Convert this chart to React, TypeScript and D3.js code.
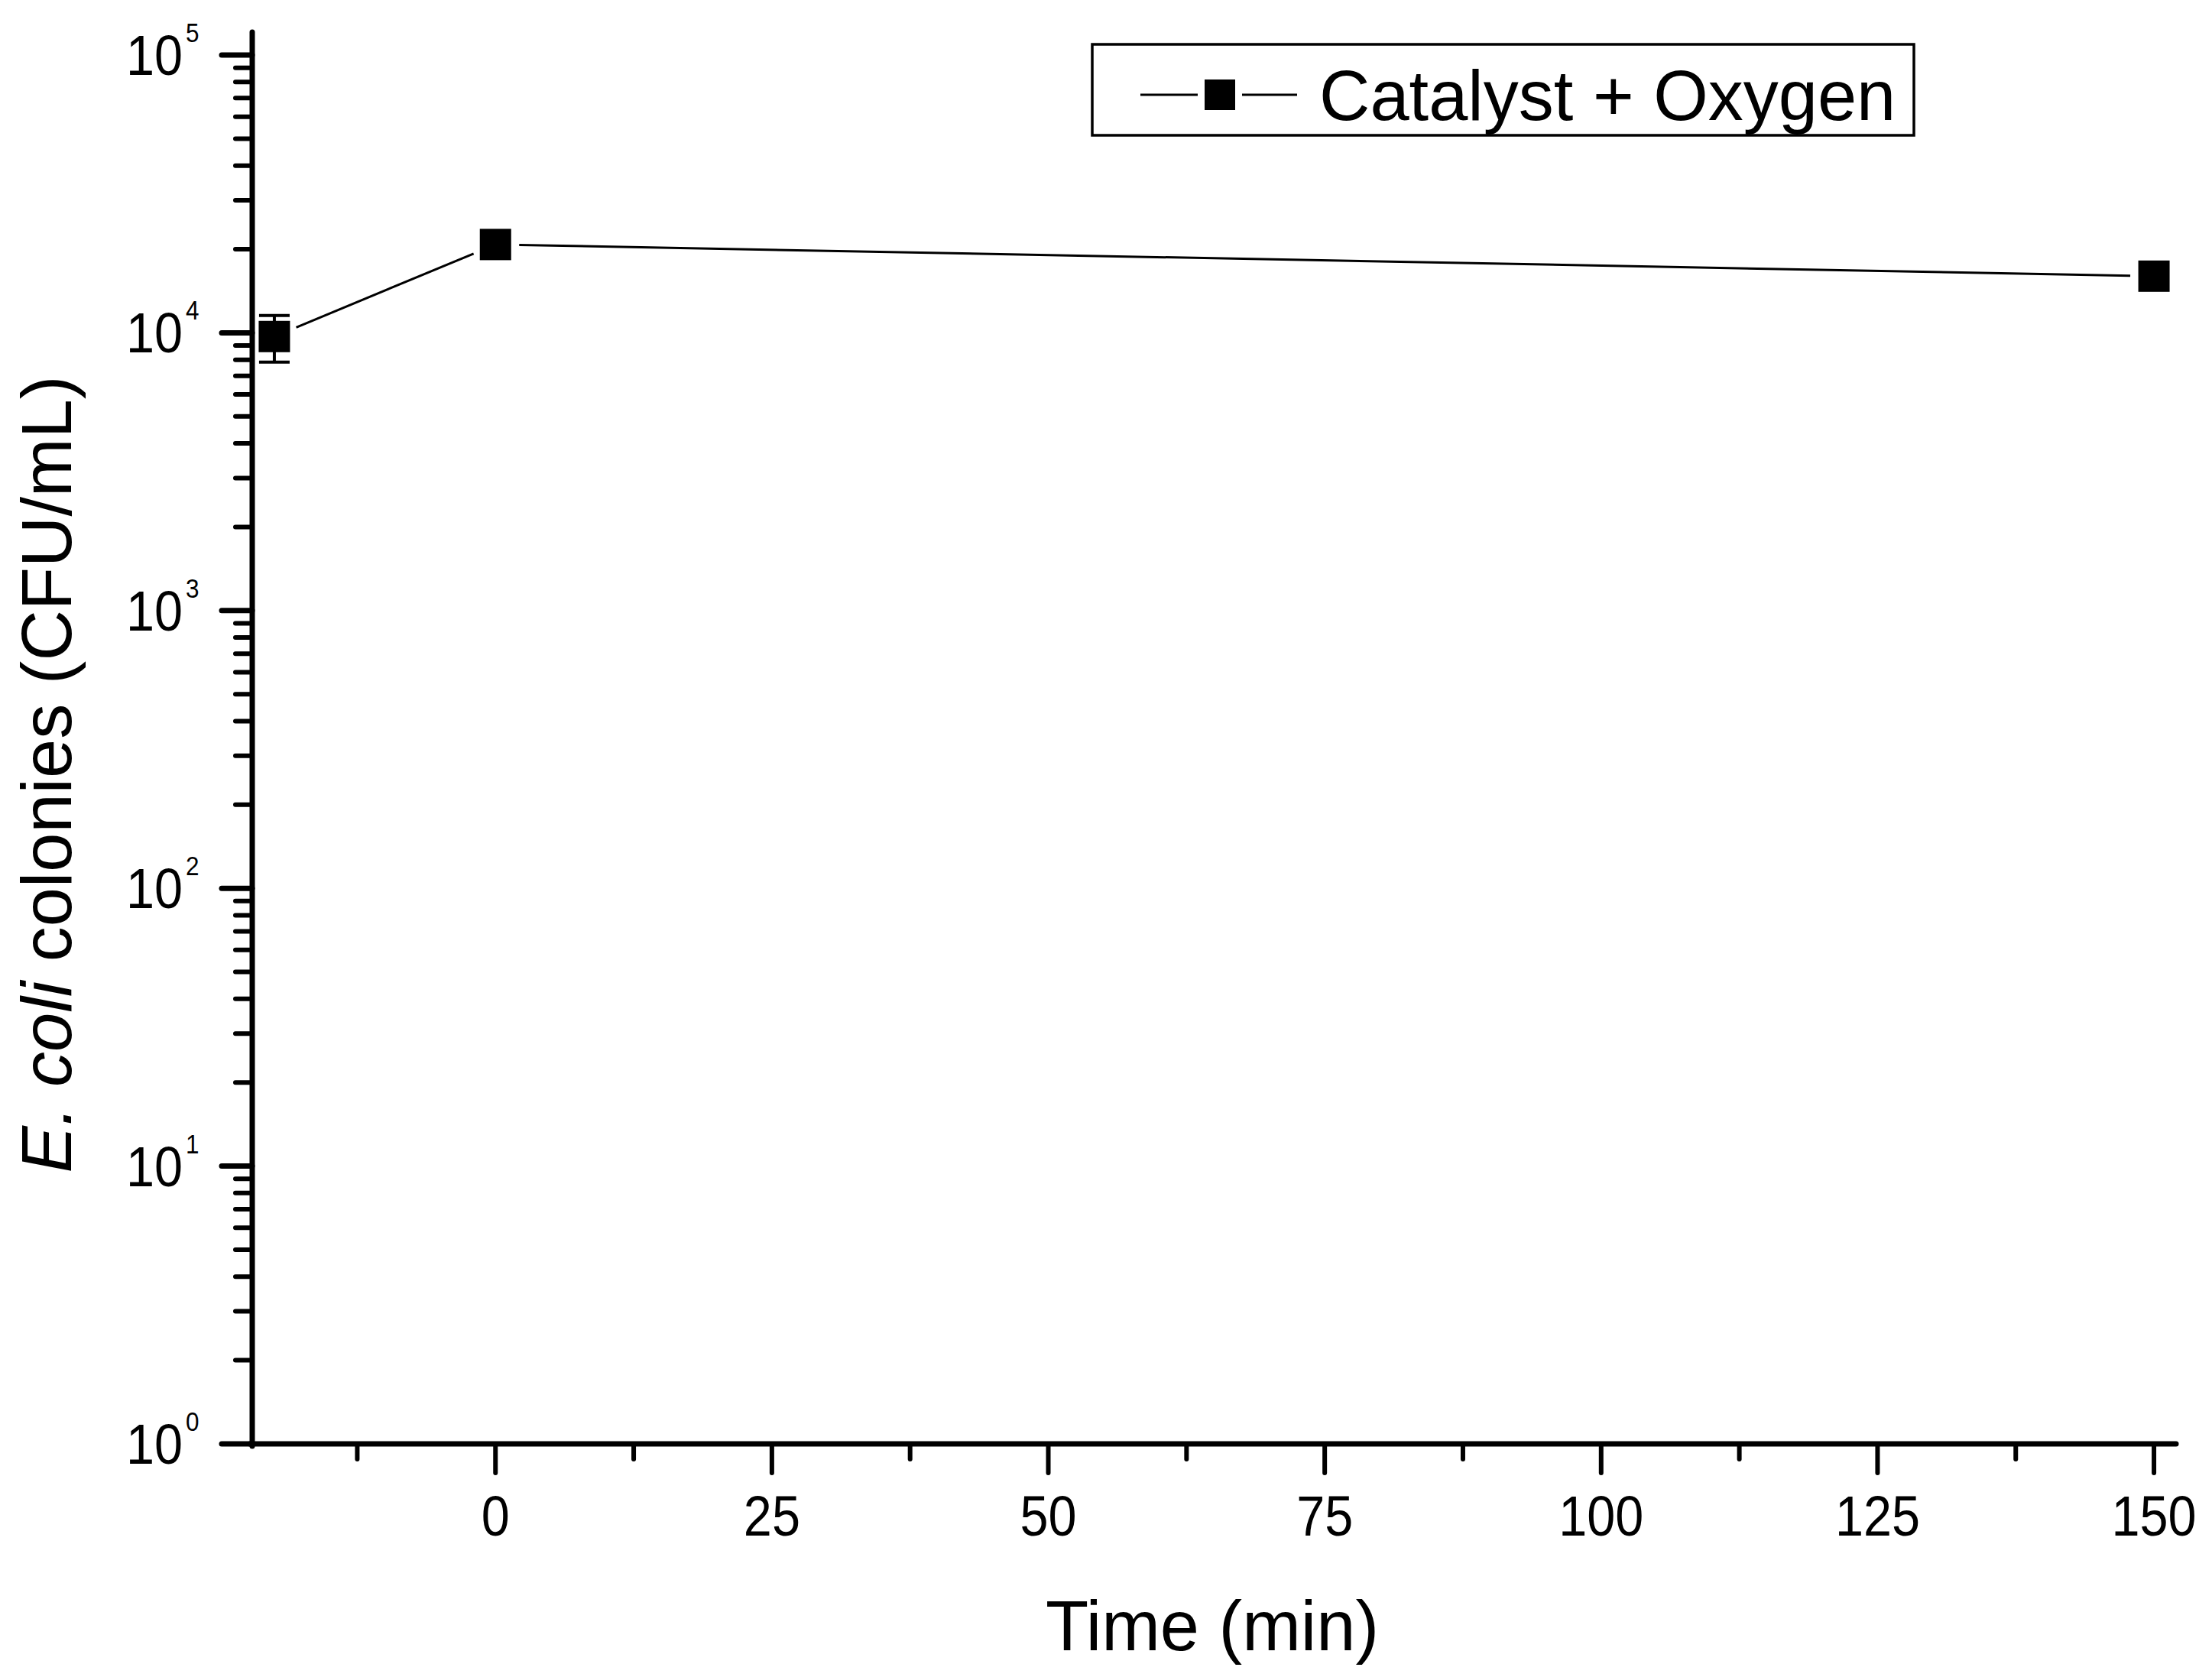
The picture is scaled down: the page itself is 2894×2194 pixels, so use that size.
import * as d3 from "d3";

// data
const times = [-20, 0, 150]; // min
const cfu = [9700, 20800, 16000]; // CFU/mL
const cfuErr = [1850, 0, 0];
const seriesName = "Catalyst + Oxygen";

const xMajorTicks = [0, 25, 50, 75, 100, 125, 150];
const xMinorTicks = [-12.5, 12.5, 37.5, 62.5, 87.5, 112.5, 137.5];
const yExponents = [0, 1, 2, 3, 4, 5];

const W = 2894;
const H = 2194;
const FONT = "'Liberation Sans', Arial, sans-serif";

export default function App() {
    const x = d3.scaleLinear().domain([-22, 152]).range([330, 2847]);
    const y = d3.scaleLog().domain([1, 121000]).range([1889, 42]);

    const yMinor: number[] = [];
    yExponents.slice(0, -1).forEach(k => {
        for (let m = 2; m <= 9; m++) yMinor.push(m * Math.pow(10, k));
    });

    const pts = times.map((t, i) => ({ x: x(t), y: y(cfu[i]) }));

    // line segments leave a small gap round each symbol, like Origin does
    const gap = 31;
    const segs = pts.slice(1).map((p1, i) => {
        const p0 = pts[i];
        const dx = p1.x - p0.x, dy = p1.y - p0.y;
        const len = Math.hypot(dx, dy);
        const ux = dx / len, uy = dy / len;
        return { x1: p0.x + ux * gap, y1: p0.y + uy * gap, x2: p1.x - ux * gap, y2: p1.y - uy * gap };
    });

    const ms = 41; // marker size
    const x0 = x.range()[0], x1 = x.range()[1];
    const yBottom = y.range()[0], yTop = y.range()[1];
    const sx = 0.9; // tick labels are a little condensed

    return (
        <svg width={W} height={H} style={{ position: "absolute", left: 0, top: 0, background: "#fff" }}
            fontFamily={FONT}>
            <rect x={0} y={0} width={W} height={H} fill="#fff" />

            {/* y axis */}
            <line x1={x0} x2={x0} y1={yTop} y2={yBottom + 3} stroke="#000" strokeWidth={7} strokeLinecap="round" />
            {yMinor.map(v => (
                <line key={"ym" + v} x1={x0} x2={x0 - 22} y1={y(v)} y2={y(v)} stroke="#000" strokeWidth={6} strokeLinecap="round" />
            ))}
            {yExponents.map(k => (
                <g key={"yM" + k}>
                    <line x1={x0} x2={x0 - 40} y1={y(Math.pow(10, k))} y2={y(Math.pow(10, k))} stroke="#000" strokeWidth={7} strokeLinecap="round" />
                    <text transform={`translate(239,${y(Math.pow(10, k)) + 26}) scale(${sx},1)`} textAnchor="end" fontSize={74}>10</text>
                    <text transform={`translate(243,${y(Math.pow(10, k)) - 17}) scale(${sx},1)`} textAnchor="start" fontSize={35}>{k}</text>
                </g>
            ))}

            {/* x axis */}
            <line x1={x0 - 3} x2={x1} y1={yBottom} y2={yBottom} stroke="#000" strokeWidth={7} strokeLinecap="round" />
            {xMinorTicks.map(v => (
                <line key={"xm" + v} x1={x(v)} x2={x(v)} y1={yBottom} y2={yBottom + 20} stroke="#000" strokeWidth={6} strokeLinecap="round" />
            ))}
            {xMajorTicks.map(v => (
                <g key={"xM" + v}>
                    <line x1={x(v)} x2={x(v)} y1={yBottom} y2={yBottom + 38} stroke="#000" strokeWidth={6} strokeLinecap="round" />
                    <text transform={`translate(${x(v)},2009) scale(${sx},1)`} textAnchor="middle" fontSize={74}>{v}</text>
                </g>
            ))}

            {/* axis titles */}
            <text x={1586} y={2159} textAnchor="middle" fontSize={92}>Time (min)</text>
            <text transform="translate(93,1013) rotate(-90)" textAnchor="middle" fontSize={92}>
                <tspan fontStyle="italic">E. coli</tspan> colonies (CFU/mL)
            </text>

            {/* series */}
            {segs.map((s, i) => (
                <line key={"s" + i} {...s} stroke="#000" strokeWidth={3} />
            ))}
            {pts.map((p, i) => cfuErr[i] > 0 && (
                <g key={"e" + i} stroke="#000" strokeWidth={4}>
                    <line x1={p.x} x2={p.x} y1={y(cfu[i] + cfuErr[i])} y2={y(cfu[i] - cfuErr[i])} />
                    <line x1={p.x - 20} x2={p.x + 20} y1={y(cfu[i] + cfuErr[i])} y2={y(cfu[i] + cfuErr[i])} />
                    <line x1={p.x - 20} x2={p.x + 20} y1={y(cfu[i] - cfuErr[i])} y2={y(cfu[i] - cfuErr[i])} />
                </g>
            ))}
            {pts.map((p, i) => (
                <rect key={"m" + i} x={p.x - ms / 2} y={p.y - ms / 2} width={ms} height={ms} fill="#000" />
            ))}

            {/* legend */}
            <rect x={1429} y={58} width={1075} height={119} fill="none" stroke="#000" strokeWidth={3.5} />
            <line x1={1492} x2={1567} y1={124} y2={124} stroke="#000" strokeWidth={3} />
            <line x1={1625} x2={1697} y1={124} y2={124} stroke="#000" strokeWidth={3} />
            <rect x={1576} y={104} width={40} height={40} fill="#000" />
            <text x={1726} y={157} fontSize={92}>{seriesName}</text>
        </svg>
    );
}
